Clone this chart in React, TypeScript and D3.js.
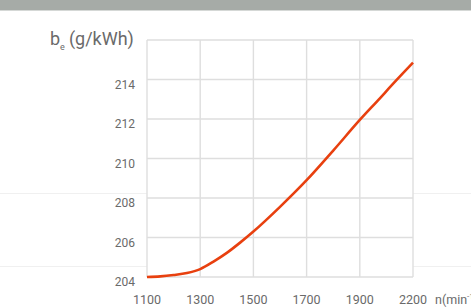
import * as d3 from 'd3';

// engine speed (min^-1) and specific fuel consumption be (g/kWh)
const speeds = [1100, 1150, 1200, 1250, 1300, 1350, 1400, 1450, 1500, 1600, 1700, 1800, 1900, 2000, 2100, 2200];
const consumption = [204.0, 204.03, 204.1, 204.2, 204.4, 204.78, 205.22, 205.74, 206.3, 207.55, 208.9, 210.4, 211.95, 212.92, 213.9, 214.85];

const xTicks = [1100, 1300, 1500, 1700, 1900, 2200];
const yTicks = [204, 206, 208, 210, 212, 214];
const yDomain = [204, 216];

const W = 471;
const H = 307;
const margin = { top: 40, right: 58, bottom: 30, left: 147 };
const font = 'Roboto, "DejaVu Sans", sans-serif';

export default function App() {
  const innerWidth = W - margin.left - margin.right;
  const innerHeight = H - margin.top - margin.bottom;

  // the x axis is not linear: equal spacing between the labelled speeds
  const x = d3.scaleLinear()
    .domain(xTicks)
    .range(xTicks.map((_, i) => (i * innerWidth) / (xTicks.length - 1)));

  const y = d3.scaleLinear().domain(yDomain).range([innerHeight, 0]);

  const line = d3.line<number>()
    .x((_, i) => x(speeds[i]))
    .y(d => y(d))
    .curve(d3.curveMonotoneX);

  const grid = '#dedede';
  const textColor = '#6a6a6a';

  return (
    <svg width={W} height={H} style={{ position: 'absolute', left: 0, top: 0, background: '#fff' }}>
      {/* page header strip */}
      <rect x={0} y={0} width={W} height={10} fill="#a6aba7" />
      <rect x={0} y={10} width={W} height={1} fill="#d5d8d6" />

      {/* faint page rules behind the chart */}
      <line x1={0} x2={W} y1={193.5} y2={193.5} stroke="#f0f0f0" />
      <line x1={0} x2={W} y1={266.5} y2={266.5} stroke="#f0f0f0" />

      <g transform={`translate(${margin.left},${margin.top})`}>
        <rect x={0} y={0} width={innerWidth} height={innerHeight} fill="#fff" />
        {xTicks.map(t => (
          <line key={'vx' + t} x1={x(t)} x2={x(t)} y1={0} y2={innerHeight} stroke={grid} strokeWidth={1.4} />
        ))}
        {[...yTicks, yDomain[1]].map(t => (
          <line key={'hy' + t} x1={0} x2={innerWidth} y1={y(t)} y2={y(t)} stroke={grid} strokeWidth={1.4} />
        ))}

        <path d={line(consumption) ?? ''} fill="none" stroke="#e8400f" strokeWidth={2.6} strokeLinejoin="round" />

        {yTicks.map(t => (
          <text key={'ty' + t} x={-12} y={y(t) + 9} textAnchor="end" fontSize={12} fill={textColor} fontFamily={font}>
            {t}
          </text>
        ))}
        {xTicks.map(t => (
          <text key={'tx' + t} x={x(t)} y={innerHeight + 27} textAnchor="middle" fontSize={12.5} fill={textColor} fontFamily={font}>
            {t}
          </text>
        ))}
        <text x={innerWidth + 22} y={innerHeight + 27} fontSize={12.5} fill={textColor} fontFamily={font}>
          n(min<tspan dy={-5} fontSize={8}>-1</tspan><tspan dy={5}>)</tspan>
        </text>
      </g>

      <text x={50} y={45} fontSize={18} fill={textColor} fontFamily={font}>
        b<tspan dy={5} fontSize={9}>e</tspan>
        <tspan dy={-5} dx={4}>(g/kWh)</tspan>
      </text>
    </svg>
  );
}
